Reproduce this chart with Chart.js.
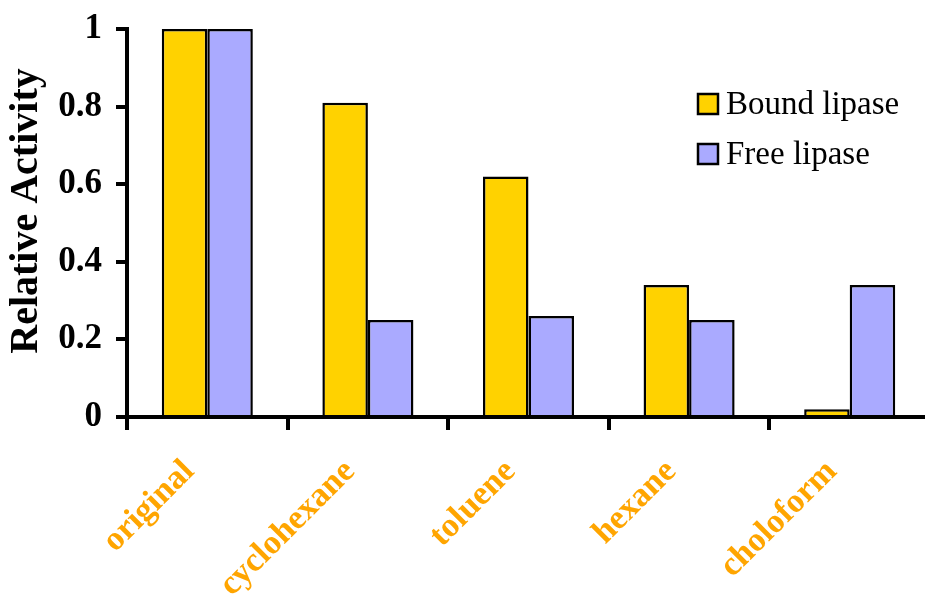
<!DOCTYPE html>
<html>
<head>
<meta charset="utf-8">
<script src="https://cdn.jsdelivr.net/npm/chart.js@4.4.1/dist/chart.umd.min.js"></script>
<style>
  html, body { margin: 0; padding: 0; background: #fff; overflow: hidden; width: 925px; height: 594px; }
  #wrap { position: absolute; left: 0; top: 0; width: 935px; height: 594px; }
</style>
</head>
<body>
<div id="wrap"><canvas id="c" width="935" height="594"></canvas></div>
<script>
// Solvents tested and the relative activity of each lipase form
const categories = ['original', 'cyclohexane', 'toluene', 'hexane', 'choloform'];
const boundLipase = [1, 0.81, 0.62, 0.34, 0.02];
const freeLipase = [1, 0.25, 0.26, 0.25, 0.34];
const seriesNames = ['Bound lipase', 'Free lipase'];
const yMajorLabels = ['0', '0.2', '0.4', '0.6', '0.8', '1'];
const yTitle = 'Relative Activity';

const SERIF = '"Liberation Serif", "Times New Roman", serif';

// Rotated y-axis title drawn beside the axis
const yTitlePlugin = {
  id: 'yTitle',
  afterDraw(chart) {
    const t = chart.options.scales.y.title;
    const c = chart.ctx;
    c.save();
    c.translate(27, 211);
    c.rotate(-Math.PI / 2);
    c.font = 'bold 40px ' + SERIF;
    c.fillStyle = '#000';
    c.textAlign = 'center';
    c.textBaseline = 'middle';
    c.fillText(t.text, 0, 0);
    c.restore();
  }
};

// Stacked legend with outlined swatches in the upper right
const legendPlugin = {
  id: 'boxLegend',
  afterDraw(chart) {
    const c = chart.ctx;
    c.save();
    c.font = '33px ' + SERIF;
    c.textBaseline = 'middle';
    c.textAlign = 'left';
    chart.data.datasets.forEach((ds, i) => {
      const bx = 698, by = 94 + i * 50, s = 20;
      c.fillStyle = ds.backgroundColor;
      c.fillRect(bx, by, s, s);
      c.lineWidth = 2.5;
      c.strokeStyle = '#000';
      c.strokeRect(bx, by, s, s);
      c.fillStyle = '#000';
      c.fillText(ds.label, 726, by + s / 2 + 1);
    });
    c.restore();
  }
};

new Chart(document.getElementById('c'), {
  type: 'bar',
  data: {
    labels: categories,
    datasets: [
      { label: seriesNames[0], data: boundLipase, backgroundColor: '#FFD200' },
      { label: seriesNames[1], data: freeLipase, backgroundColor: '#AAAAFF' }
    ]
  },
  options: {
    responsive: false,
    animation: false,
    datasets: {
      bar: {
        categoryPercentage: 0.567,
        barPercentage: 1,
        borderColor: '#000',
        borderWidth: 2.5,
        borderSkipped: 'start'
      }
    },
    layout: { padding: { top: 29, right: 5, left: 0, bottom: 0 } },
    plugins: { legend: { display: false }, tooltip: { enabled: false } },
    scales: {
      x: {
        grid: { offset: true, drawOnChartArea: false, color: '#000', lineWidth: 4, tickLength: 13 },
        border: { color: '#000', width: 4 },
        ticks: {
          color: '#FFA500',
          font: { family: SERIF, size: 34, weight: 'bold' },
          minRotation: 45, maxRotation: 45,
          padding: 22,
          labelOffset: -18,
          autoSkip: false
        },
        afterFit(scale) {
          scale.height = 177;
          scale.paddingLeft = 0;
          scale.paddingRight = 0;
        }
      },
      y: {
        min: 0, max: 1,
        title: { display: false, text: yTitle },
        grid: { drawOnChartArea: false, color: '#000', lineWidth: 4, tickLength: 11 },
        border: { color: '#000', width: 4 },
        ticks: {
          stepSize: 0.1,
          color: '#000',
          padding: 14,
          font: { family: SERIF, size: 35, weight: 'bold' },
          callback(v) {
            const k = Math.round(v * 10);
            return k % 2 === 0 ? yMajorLabels[k / 2] : '';
          }
        },
        afterFit(scale) {
          scale.width = 127;
          scale.paddingTop = 0;
          scale.paddingBottom = 0;
        }
      }
    }
  },
  plugins: [yTitlePlugin, legendPlugin]
});
</script>
</body>
</html>
